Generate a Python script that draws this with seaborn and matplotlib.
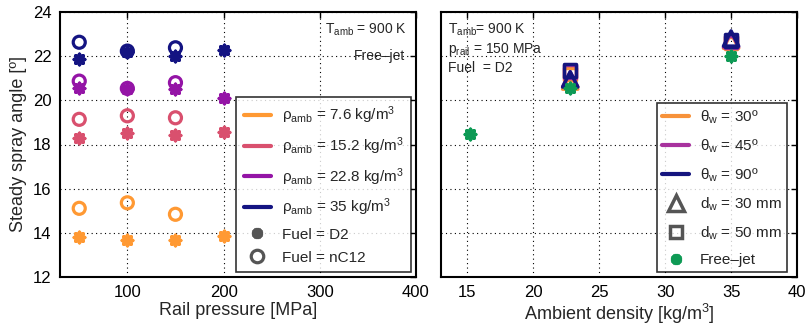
import matplotlib
matplotlib.use('Agg')
import matplotlib.pyplot as plt
from matplotlib.lines import Line2D
import seaborn as sns

# Left panel data: rail pressure sweep
pressure_d2 = [50, 100, 150, 200]
pressure_nc12 = [50, 100, 150]
densities = ['7.6', '15.2', '22.8', '35']
angle_d2 = {
  '7.6': [13.82, 13.67, 13.67, 13.85],
  '15.2': [18.28, 18.53, 18.43, 18.57],
  '22.8': [20.54, 20.50, 20.51, 20.09],
  '35': [21.86, 22.18, 22.00, 22.28],
}
angle_nc12 = {
  '7.6': [15.11, 15.36, 14.84],
  '15.2': [19.14, 19.30, 19.21],
  '22.8': [20.87, 20.54, 20.80],
  '35': [22.63, 22.23, 22.38],
}

# Right panel data: ambient density sweep
density_wall = [22.8, 35]
thetas = ['30', '45', '90']
angle_d30 = {'30': [20.85, 22.70], '45': [20.95, 22.75], '90': [20.95, 22.80]}
angle_d50 = {'30': [21.20, 22.60], '45': [21.30, 22.65], '90': [21.35, 22.70]}
density_free = [15.2, 22.8, 35]
angle_free = [18.46, 20.54, 22.00]

# Config
RHO_COLORS = {'7.6': '#FF9933', '15.2': '#D9506E', '22.8': '#9414A6', '35': '#141482'}
THETA_COLORS = {'30': '#F7923A', '45': '#A8329E', '90': '#15157F'}
GREEN = '#0E9A55'
GREY = '#555555'
STAR = (8, 2, 0)

sns.set_theme(style='white')
plt.rcParams['font.family'] = ['Liberation Sans', 'DejaVu Sans']
plt.rcParams['mathtext.fontset'] = 'custom'
plt.rcParams['mathtext.rm'] = 'Liberation Sans'
plt.rcParams['mathtext.it'] = 'Liberation Sans'
plt.rcParams['mathtext.bf'] = 'Liberation Sans:bold'

fig = plt.figure(figsize=(8.07, 3.31), dpi=100)
ax1 = fig.add_axes([60 / 807, 54 / 331, 356 / 807, 265 / 331])
ax2 = fig.add_axes([441 / 807, 54 / 331, 356 / 807, 265 / 331])


def style_axes(ax):
  ax.set_ylim(12, 24)
  ax.set_yticks([12, 14, 16, 18, 20, 22, 24])
  ax.grid(True, linestyle=(0, (1, 3)), color='black', linewidth=0.8)
  ax.tick_params(direction='in', length=4, width=1, top=True, right=True,
                 labelsize=12, colors='black', pad=6)
  for s in ax.spines.values():
    s.set_color('black')
    s.set_linewidth(1.5)
  ax.set_facecolor('white')


def star(ax, x, y, color, s=55):
  sns.scatterplot(x=x, y=y, ax=ax, marker=STAR, color=color, s=s,
                  linewidth=2.6, legend=False, zorder=3)


def ring(ax, x, y, color, s=75):
  sns.scatterplot(x=x, y=y, ax=ax, marker='o', facecolor='none', edgecolor=color,
                  s=s, linewidth=2.3, legend=False, zorder=3)


def make_legend(ax, handles, anchor, pad, spacing):
  leg = ax.legend(handles=handles, loc='lower right', bbox_to_anchor=anchor,
                  fontsize=11, frameon=True, fancybox=False, edgecolor='black',
                  handlelength=1.8, labelspacing=spacing, borderpad=pad,
                  handletextpad=0.7, borderaxespad=0.3)
  leg.get_frame().set_linewidth(1.2)
  leg.set_zorder(5)
  return leg


# Left panel
for d in densities:
  star(ax1, pressure_d2, angle_d2[d], RHO_COLORS[d])
  ring(ax1, pressure_nc12, angle_nc12[d], RHO_COLORS[d])

style_axes(ax1)
ax1.set_xlim(30, 400)
ax1.set_xticks([100, 200, 300, 400])
ax1.set_xlabel('Rail pressure [MPa]', fontsize=13, labelpad=1)
ax1.set_ylabel('Steady spray angle [º]', fontsize=13, labelpad=4)
ax1.text(0.975, 0.965, r'T$_{\mathrm{amb}}$ = 900 K', transform=ax1.transAxes,
         ha='right', va='top', fontsize=10)
ax1.text(0.97, 0.86, 'Free–jet', transform=ax1.transAxes,
         ha='right', va='top', fontsize=10)

handles1 = [Line2D([], [], color=RHO_COLORS[d], lw=3,
                   label=r'$\mathrm{\rho_{amb}}$ = ' + d + r' kg/m$^3$') for d in densities]
handles1.append(Line2D([], [], marker=STAR, color=GREY, ls='none', ms=8, mew=2.6, label='Fuel = D2'))
handles1.append(Line2D([], [], marker='o', mfc='none', mec=GREY, ls='none', ms=9, mew=2.3,
                       label='Fuel = nC12'))
make_legend(ax1, handles1, (1.0, 0.0), 0.5, 0.6)

# Right panel
for t in thetas:
  sns.scatterplot(x=density_wall, y=angle_d30[t], ax=ax2, marker='^', facecolor='none',
                  edgecolor=THETA_COLORS[t], s=120, linewidth=2.5, legend=False, zorder=3)
  sns.scatterplot(x=density_wall, y=angle_d50[t], ax=ax2, marker='s', facecolor='none',
                  edgecolor=THETA_COLORS[t], s=80, linewidth=2.5, legend=False, zorder=3)
star(ax2, density_free, angle_free, GREEN)

style_axes(ax2)
ax2.set_yticklabels([])
ax2.set_xlim(13, 40)
ax2.set_xticks([15, 20, 25, 30, 35, 40])
ax2.set_xlabel(r'Ambient density [kg/m$^3$]', fontsize=13, labelpad=1)
ax2.text(0.02, 0.965, r'T$_{\mathrm{amb}}$= 900 K', transform=ax2.transAxes,
         ha='left', va='top', fontsize=10)
ax2.text(0.02, 0.89, r'p$_{\mathrm{rail}}$ = 150 MPa', transform=ax2.transAxes,
         ha='left', va='top', fontsize=10)
ax2.text(0.02, 0.815, 'Fuel  = D2', transform=ax2.transAxes,
         ha='left', va='top', fontsize=10)

handles2 = [Line2D([], [], color=THETA_COLORS[t], lw=3,
                   label=r'$\mathrm{\theta_w}$ = ' + t + 'º') for t in thetas]
handles2.append(Line2D([], [], marker='^', mfc='none', mec=GREY, ls='none', ms=11, mew=2.5,
                       label=r'd$_{\mathrm{w}}$ = 30 mm'))
handles2.append(Line2D([], [], marker='s', mfc='none', mec=GREY, ls='none', ms=8, mew=2.5,
                       label=r'd$_{\mathrm{w}}$ = 50 mm'))
handles2.append(Line2D([], [], marker=STAR, color=GREEN, ls='none', ms=8, mew=2.6, label='Free–jet'))
make_legend(ax2, handles2, (0.985, 0.0), 0.35, 0.75)

plt.savefig('out.png', dpi=100)
